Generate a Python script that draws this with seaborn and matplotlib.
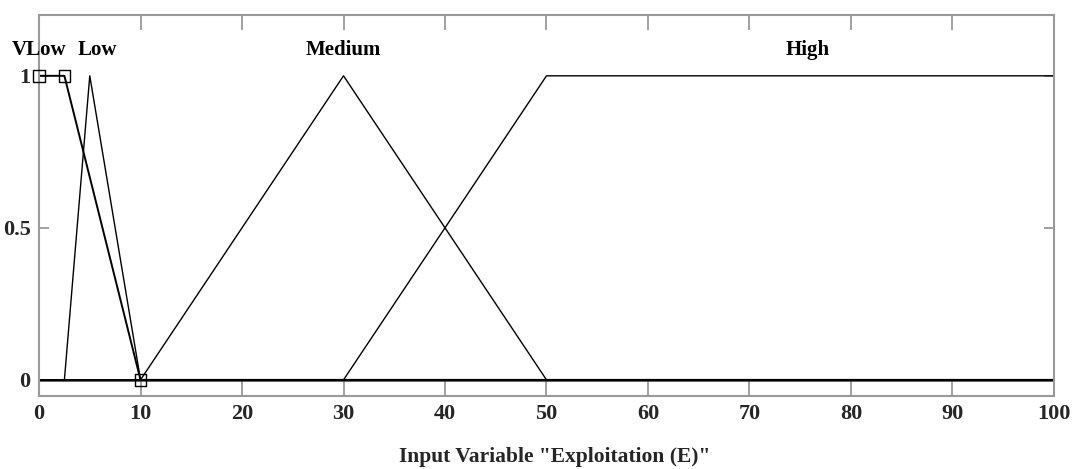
import matplotlib
matplotlib.use("Agg")
import matplotlib.pyplot as plt
import seaborn as sns
import pandas as pd
import numpy as np

# Membership function breakpoints (x, mu) over universe 0..100
mf_names = ["VLow", "Low", "Medium", "High"]
vlow_x = [0, 0, 2.5, 10, 100]
vlow_y = [1, 1, 1, 0, 0]
low_x = [0, 2.5, 5, 10, 100]
low_y = [0, 0, 1, 0, 0]
med_x = [0, 10, 30, 50, 100]
med_y = [0, 0, 1, 0, 0]
high_x = [0, 30, 50, 100]
high_y = [0, 0, 1, 1]
label_x = [0, 5.7, 30, 75.7]
label_y = 1.085
marker_x = [0, 2.5, 10]
marker_y = [1, 1, 0]
xticks = [0, 10, 20, 30, 40, 50, 60, 70, 80, 90, 100]
yticks = [0, 0.5, 1]
ytick_labels = ["0", "0.5", "1"]
xlabel = 'Input Variable "Exploitation (E)"'

sns.set_theme(style="white")
plt.rcParams['font.family'] = ['Liberation Serif', 'DejaVu Serif']
plt.rcParams['font.weight'] = 'bold'

fig = plt.figure(figsize=(10.78, 4.69), dpi=100)
ax = fig.add_axes([0.0362, 0.1557, 0.9415, 0.8123])

frames = []
for name, xs, ys in [("VLow", vlow_x, vlow_y), ("Low", low_x, low_y),
                     ("Medium", med_x, med_y), ("High", high_x, high_y)]:
    frames.append(pd.DataFrame({"x": xs, "y": ys, "mf": name, "order": range(len(xs))}))
df = pd.concat(frames, ignore_index=True)

sns.lineplot(data=df[df.mf != "VLow"], x="x", y="y", units="mf", estimator=None,
             sort=False, color="black", lw=1.0, ax=ax, legend=False)
sns.lineplot(data=df[df.mf == "VLow"], x="x", y="y", estimator=None, sort=False,
             color="black", lw=1.4, ax=ax, legend=False)
ax.plot([0, 100], [0, 0], color="#333333", lw=1.8, zorder=1)
sns.scatterplot(x=marker_x, y=marker_y, marker="s", s=70, facecolor="none",
                edgecolor="black", linewidth=1.0, ax=ax, zorder=5, clip_on=False)

for name, lx in zip(mf_names, label_x):
    ax.text(lx, label_y, name, ha="center", va="center", fontsize=15,
            fontweight="bold", color="black")

ax.set_xlim(0, 100)
ax.set_ylim(-0.053, 1.2)
ax.set_xticks(xticks)
ax.set_xticklabels([str(t) for t in xticks], fontsize=16, fontweight="bold")
ax.set_yticks(yticks)
ax.set_yticklabels(ytick_labels, fontsize=16, fontweight="bold")
ax.tick_params(axis="x", direction="in", length=11, width=1.3, color="#999999",
               top=True, bottom=True, pad=6)
ax.tick_params(axis="y", direction="in", length=7.5, width=1.3, color="#999999",
               left=True, right=True, pad=6)
ax.set_xlabel(xlabel, fontsize=15.5, fontweight="bold")
ax.xaxis.set_label_coords(0.508, -0.133)
ax.set_ylabel("")
for s in ax.spines.values():
    s.set_color("#999999")
    s.set_linewidth(1.5)
    s.set_visible(True)

fig.savefig("out.png", dpi=100)
